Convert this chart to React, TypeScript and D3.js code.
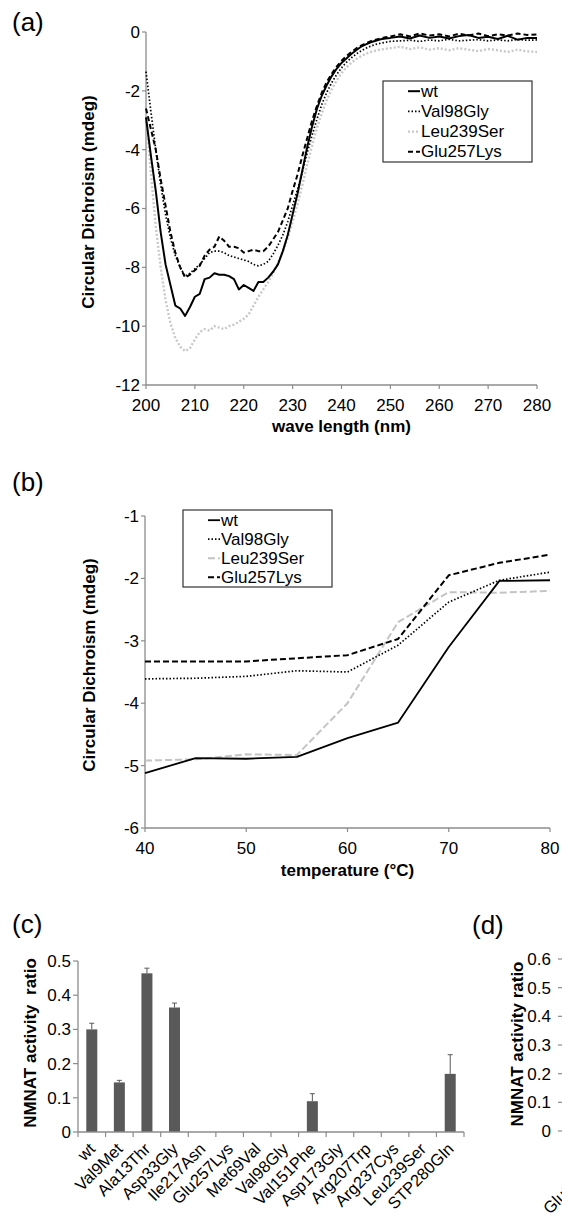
import React from "react";
import * as d3 from "d3";

// ---------- Panel (a): CD spectra ----------
const waveNm = [
  200, 201, 202, 203, 204, 205, 206, 207, 208, 209, 210, 211, 212, 213, 214, 215, 216, 217, 218, 219,
  220, 221, 222, 223, 224, 225, 226, 227, 228, 229, 230, 231, 232, 233, 234, 235, 236, 237, 238, 239,
  240, 241, 242, 243, 244, 245, 246, 247, 248, 249, 250,
  252, 254, 256, 258, 260, 262, 264, 266, 268, 270, 272, 274, 276, 278, 280,
];
const specWt = [
  -2.9, -4.2, -5.4, -6.8, -7.9, -8.6, -9.3, -9.4, -9.65, -9.35, -9.0, -8.9, -8.4, -8.35, -8.2, -8.25, -8.25, -8.3, -8.4, -8.75,
  -8.6, -8.7, -8.8, -8.5, -8.5, -8.35, -8.15, -7.9, -7.45, -6.9, -6.2, -5.5, -4.7, -3.9, -3.2, -2.6, -2.15, -1.8, -1.5, -1.25,
  -1.05, -0.9, -0.75, -0.62, -0.5, -0.42, -0.35, -0.3, -0.25, -0.22, -0.2,
  -0.15, -0.22, -0.12, -0.2, -0.15, -0.22, -0.14, -0.1, -0.2, -0.16, -0.24, -0.13, -0.26, -0.2, -0.2,
];
const specVal98Gly = [
  -1.35, -2.7, -4.0, -5.2, -6.2, -7.0, -7.6, -8.0, -8.3, -8.2, -8.05, -7.9, -7.7, -7.5, -7.45, -7.45, -7.5, -7.6, -7.65, -7.7,
  -7.75, -7.8, -7.9, -7.95, -7.9, -7.8, -7.55, -7.25, -6.9, -6.45, -5.9, -5.35, -4.75, -4.1, -3.5, -2.95, -2.45, -2.05, -1.72, -1.45,
  -1.22, -1.03, -0.88, -0.75, -0.64, -0.55, -0.48, -0.42, -0.38, -0.35, -0.32,
  -0.3, -0.28, -0.32, -0.27, -0.3, -0.25, -0.3, -0.28, -0.26, -0.3, -0.27, -0.3, -0.25, -0.28, -0.27,
];
const specLeu239Ser = [
  -2.8, -4.8, -6.6, -8.0, -9.1, -9.9, -10.4, -10.7, -10.85, -10.75, -10.45, -10.2, -10.1, -10.15, -10.0, -10.05, -10.1, -10.0, -9.95, -9.85,
  -9.75, -9.6, -9.3, -9.0, -8.75, -8.5, -8.2, -7.85, -7.45, -7.0, -6.45, -5.85, -5.2, -4.5, -3.85, -3.25, -2.75, -2.3, -1.95, -1.65,
  -1.4, -1.2, -1.05, -0.92, -0.82, -0.74, -0.68, -0.63, -0.6, -0.57, -0.55,
  -0.5, -0.58, -0.52, -0.6, -0.55, -0.62, -0.55, -0.6, -0.65, -0.58, -0.62, -0.68, -0.6, -0.66, -0.68,
];
const specGlu257Lys = [
  -2.6, -3.3, -4.0, -5.0, -5.9, -6.8, -7.5, -8.0, -8.35, -8.25, -8.1, -7.95, -7.6, -7.4, -7.3, -6.95, -7.1, -7.3, -7.3, -7.35,
  -7.5, -7.45, -7.4, -7.45, -7.45, -7.3, -7.05, -6.8, -6.4, -6.0, -5.4, -4.85, -4.2, -3.6, -3.0, -2.5, -2.05, -1.7, -1.42, -1.18,
  -0.98, -0.82, -0.68, -0.56, -0.46, -0.38, -0.31, -0.26, -0.22, -0.18, -0.15,
  -0.08, -0.15, -0.05, -0.12, -0.08, -0.15, -0.06, -0.12, -0.05, -0.14, -0.08, -0.12, -0.05, -0.1, -0.08,
];
const aXTicks = [200, 210, 220, 230, 240, 250, 260, 270, 280];
const aYTicks = [0, -2, -4, -6, -8, -10, -12];

// ---------- Panel (b): thermal melt ----------
const tempC = [40, 45, 50, 55, 60, 65, 70, 75, 80];
const meltWt = [-5.12, -4.88, -4.89, -4.86, -4.56, -4.31, -3.1, -2.04, -2.03];
const meltVal98Gly = [-3.61, -3.6, -3.57, -3.48, -3.5, -3.07, -2.38, -2.03, -1.9];
const meltLeu239Ser = [-4.92, -4.9, -4.82, -4.83, -4.0, -2.7, -2.22, -2.23, -2.2];
const meltGlu257Lys = [-3.33, -3.33, -3.33, -3.28, -3.23, -2.97, -1.95, -1.75, -1.62];
const bXTicks = [40, 50, 60, 70, 80];
const bYTicks = [-1, -2, -3, -4, -5, -6];

// ---------- Panel (c): NMNAT activity ----------
const mutants = [
  "wt", "Val9Met", "Ala13Thr", "Asp33Gly", "Ile217Asn", "Glu257Lys", "Met69Val",
  "Val98Gly", "Val151Phe", "Asp173Gly", "Arg207Trp", "Arg237Cys", "Leu239Ser", "STP280Gln",
];
const activity = [0.3, 0.145, 0.464, 0.364, 0, 0, 0, 0, 0.09, 0, 0, 0, 0, 0.17];
const activityErr = [0.018, 0.006, 0.015, 0.013, 0, 0, 0, 0, 0.022, 0, 0, 0, 0, 0.056];
const cYTicks = [0, 0.1, 0.2, 0.3, 0.4, 0.5];

// ---------- Panel (d): (cut off at right edge) ----------
const dYTicks = [0, 0.1, 0.2, 0.3, 0.4, 0.5, 0.6];
const dFirstLabel = "Glu257Lys";

const legendNames = ["wt", "Val98Gly", "Leu239Ser", "Glu257Lys"];

const FONT = "'Liberation Sans', Arial, Helvetica, sans-serif";
const AXIS = "#8c8c8c";
const BAR = "#595959";

type Style = { stroke: string; width: number; dash?: string };
const aStyles: Style[] = [
  { stroke: "#000", width: 2 },
  { stroke: "#000", width: 1.7, dash: "1.5 2" },
  { stroke: "#c8c8c8", width: 2.4, dash: "2 2" },
  { stroke: "#000", width: 2, dash: "5 3" },
];
const bStyles: Style[] = [
  { stroke: "#000", width: 1.8 },
  { stroke: "#000", width: 1.7, dash: "1.5 2" },
  { stroke: "#c4c4c4", width: 2, dash: "7 3" },
  { stroke: "#000", width: 2, dash: "6 3" },
];

function Legend({ x, y, w, h, rowY, step, styles }: { x: number; y: number; w: number; h: number; rowY: number; step: number; styles: Style[] }) {
  return (
    <g>
      <rect x={x} y={y} width={w} height={h} fill="#fff" stroke="#333" strokeWidth={1.2} />
      {legendNames.map((n, i) => {
        const by = rowY + i * step;
        const s = styles[i];
        return (
          <g key={n}>
            <line x1={x + 25} x2={x + 37} y1={by - 5.5} y2={by - 5.5} stroke={s.stroke} strokeWidth={s.width} strokeDasharray={s.dash} />
            <text x={x + 38} y={by} fontSize={17} fontFamily={FONT} fill="#000">{n}</text>
          </g>
        );
      })}
    </g>
  );
}

export default function App() {
  const xA = d3.scaleLinear().domain([200, 280]).range([146, 537]);
  const yA = d3.scaleLinear().domain([-12, 0]).range([385, 32]);
  const xB = d3.scaleLinear().domain([40, 80]).range([145, 550]);
  const yB = d3.scaleLinear().domain([-6, -1]).range([828, 516]);
  const xC = d3.scaleBand<string>().domain(mutants).range([78, 464]).padding(0);
  const yC = d3.scaleLinear().domain([0, 0.5]).range([1132, 961]);
  const yD = d3.scaleLinear().domain([0, 0.6]).range([1131, 959]);

  const lineA = d3.line<[number, number]>().x((d) => xA(d[0])).y((d) => yA(d[1]));
  const lineB = d3.line<[number, number]>().x((d) => xB(d[0])).y((d) => yB(d[1]));

  const aSeries = [specWt, specVal98Gly, specLeu239Ser, specGlu257Lys];
  const bSeries = [meltWt, meltVal98Gly, meltLeu239Ser, meltGlu257Lys];
  const drawOrder = [2, 1, 3, 0];

  const bw = xC.bandwidth();
  const barW = 11;
  const tickX = mutants.map((m) => xC(m) as number).concat([464]);

  return (
    <svg width={562} height={1214} style={{ position: "absolute", left: 0, top: 0, background: "#fff" }} fontFamily={FONT}>
      <defs>
        <clipPath id="view"><rect x={0} y={0} width={562} height={1214} /></clipPath>
      </defs>
      <rect x={0} y={0} width={562} height={1214} fill="#fff" />

      {/* ===== (a) ===== */}
      <text x={12} y={31} fontSize={26}>(a)</text>
      <line x1={146} x2={146} y1={yA(0)} y2={yA(-12)} stroke={AXIS} strokeWidth={1.3} />
      <line x1={146} x2={537} y1={yA(-12)} y2={yA(-12)} stroke={AXIS} strokeWidth={1.3} />
      {aYTicks.map((t) => (
        <g key={"ay" + t}>
          <line x1={142} x2={146} y1={yA(t)} y2={yA(t)} stroke={AXIS} strokeWidth={1.2} />
          <text x={140} y={yA(t)} dy="0.35em" textAnchor="end" fontSize={17}>{t}</text>
        </g>
      ))}
      {aXTicks.map((t) => (
        <g key={"ax" + t}>
          <line x1={xA(t)} x2={xA(t)} y1={385} y2={389} stroke={AXIS} strokeWidth={1.2} />
          <text x={xA(t)} y={411} textAnchor="middle" fontSize={17}>{t}</text>
        </g>
      ))}
      <text x={341.5} y={432} textAnchor="middle" fontSize={17} fontWeight="bold">wave length (nm)</text>
      <text transform="translate(94,202) rotate(-90)" textAnchor="middle" fontSize={17} fontWeight="bold">Circular Dichroism (mdeg)</text>
      {drawOrder.map((i) => {
        const s = aStyles[i];
        const pts = waveNm.map((w, k) => [w, aSeries[i][k]] as [number, number]);
        return <path key={"a" + i} d={lineA(pts) || ""} fill="none" stroke={s.stroke} strokeWidth={s.width} strokeDasharray={s.dash} strokeLinejoin="round" />;
      })}
      <Legend x={383} y={81} w={149} h={81} rowY={96.7} step={20.2} styles={aStyles} />

      {/* ===== (b) ===== */}
      <text x={12} y={491} fontSize={26}>(b)</text>
      <line x1={145} x2={145} y1={yB(-1)} y2={yB(-6)} stroke={AXIS} strokeWidth={1.3} />
      <line x1={145} x2={550} y1={yB(-6)} y2={yB(-6)} stroke={AXIS} strokeWidth={1.3} />
      {bYTicks.map((t) => (
        <g key={"by" + t}>
          <line x1={141} x2={145} y1={yB(t)} y2={yB(t)} stroke={AXIS} strokeWidth={1.2} />
          <text x={139} y={yB(t)} dy="0.35em" textAnchor="end" fontSize={17}>{t}</text>
        </g>
      ))}
      {bXTicks.map((t) => (
        <g key={"bx" + t}>
          <line x1={xB(t)} x2={xB(t)} y1={828} y2={832} stroke={AXIS} strokeWidth={1.2} />
          <text x={xB(t)} y={854} textAnchor="middle" fontSize={17}>{t}</text>
        </g>
      ))}
      <text x={347.5} y={876} textAnchor="middle" fontSize={17} fontWeight="bold">temperature (°C)</text>
      <text transform="translate(95,665) rotate(-90)" textAnchor="middle" fontSize={17} fontWeight="bold">Circular Dichroism (mdeg)</text>
      {drawOrder.map((i) => {
        const s = bStyles[i];
        const pts = tempC.map((t, k) => [t, bSeries[i][k]] as [number, number]);
        return <path key={"b" + i} d={lineB(pts) || ""} fill="none" stroke={s.stroke} strokeWidth={s.width} strokeDasharray={s.dash} strokeLinejoin="round" />;
      })}
      <Legend x={183} y={510} w={149} h={77} rowY={525.7} step={19} styles={bStyles} />

      {/* ===== (c) ===== */}
      <text x={12} y={933} fontSize={26}>(c)</text>
      {mutants.map((m, i) => {
        const cx = (xC(m) as number) + bw / 2;
        const v = activity[i];
        const e = activityErr[i];
        return (
          <g key={"bar" + m}>
            {v > 0 && <rect x={cx - barW / 2} y={yC(v)} width={barW} height={yC(0) - yC(v)} fill={BAR} />}
            {e > 0 && (
              <g stroke={BAR} strokeWidth={1}>
                <line x1={cx} x2={cx} y1={yC(v)} y2={yC(v + e)} />
                <line x1={cx - 2.5} x2={cx + 2.5} y1={yC(v + e)} y2={yC(v + e)} />
              </g>
            )}
            <text transform={`translate(${cx + 4.5},1150) rotate(-45)`} textAnchor="end" fontSize={16.5}>{m}</text>
          </g>
        );
      })}
      <line x1={78} x2={78} y1={yC(0.5)} y2={yC(0)} stroke={AXIS} strokeWidth={1.3} />
      <line x1={78} x2={464} y1={yC(0)} y2={yC(0)} stroke={AXIS} strokeWidth={1.3} />
      {cYTicks.map((t) => (
        <g key={"cy" + t}>
          <line x1={73} x2={78} y1={yC(t)} y2={yC(t)} stroke={AXIS} strokeWidth={1.2} />
          <text x={71} y={yC(t)} dy="0.35em" textAnchor="end" fontSize={17}>{d3.format("~g")(t)}</text>
        </g>
      ))}
      {tickX.map((x, i) => (
        <line key={"cx" + i} x1={x} x2={x} y1={1132} y2={1137} stroke={AXIS} strokeWidth={1.2} />
      ))}
      <text transform="translate(35.5,1043) rotate(-90)" textAnchor="middle" fontSize={17} fontWeight="bold" style={{ whiteSpace: "pre" }}>{"NMNAT activity  ratio"}</text>

      {/* ===== (d) (cut off at the right edge, as in the reference) ===== */}
      <g clipPath="url(#view)">
        <text x={472} y={934} fontSize={26}>(d)</text>
        <line x1={563} x2={563} y1={yD(0.6)} y2={yD(0)} stroke={AXIS} strokeWidth={1.3} />
        {dYTicks.map((t) => (
          <g key={"dy" + t}>
            <line x1={558} x2={563} y1={yD(t)} y2={yD(t)} stroke={AXIS} strokeWidth={1.2} />
            <text x={551} y={yD(t)} dy="0.35em" textAnchor="end" fontSize={17}>{d3.format("~g")(t)}</text>
          </g>
        ))}
        <text transform="translate(522.5,1044) rotate(-90)" textAnchor="middle" fontSize={17} fontWeight="bold">NMNAT activity ratio</text>
        <text transform="translate(550,1215) rotate(-45)" textAnchor="start" fontSize={16.5}>{dFirstLabel}</text>
      </g>
    </svg>
  );
}
